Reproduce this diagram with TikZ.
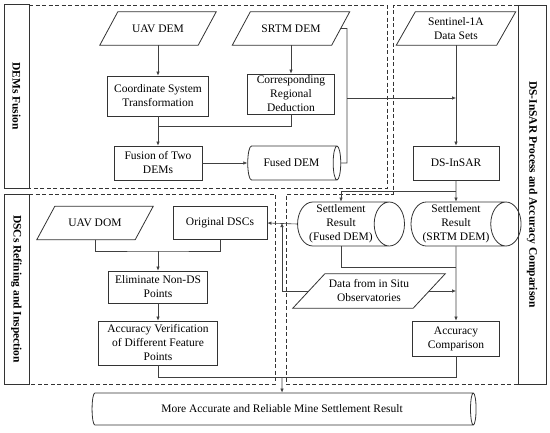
\documentclass[tikz,border=0pt]{standalone}
\usepackage{fontspec}
\setmainfont{Liberation Serif}
\usetikzlibrary{shapes.geometric,arrows.meta,calc}
\begin{document}
\begin{tikzpicture}[x=1pt,y=-1pt,
  font=\fontsize{11.5}{14}\selectfont,
  box/.style={draw=black!80, line width=0.8pt, align=center, inner sep=1pt},
  para/.style={align=center, inner sep=1pt},
  pline/.style={draw=black!80, line width=0.8pt},
  cyl/.style={cylinder, draw=black!80, line width=0.8pt, align=center, aspect=0.75, inner sep=1pt},
  strip/.style={draw=black!80, line width=0.8pt, rotate=-90, inner sep=0pt,
    font=\fontsize{11.5}{14}\selectfont\bfseries},
  region/.style={draw=black!80, line width=0.8pt, dash pattern=on 4pt off 2.5pt},
  conn/.style={draw=black!75, line width=0.6pt},
  arr/.style={conn, -{Latex[length=4pt,width=3.5pt]}}
]
\useasboundingbox (0,0) rectangle (550,432);

% side strips
\node[strip, minimum width=184pt, minimum height=25pt] (s1) at (16.5,96) {DEMs Fusion};
\node[strip, minimum width=190pt, minimum height=25pt] (s2) at (16.5,289) {DSCs Refining and Inspection};
\node[strip, minimum width=379pt, minimum height=28pt] (s3) at (532,194.5) {DS-InSAR Process and Accuracy Comparison};

% dashed regions
\draw[region] (29,5) -- (387,5) -- (387,188) -- (29,188);
\draw[region] (29,194) -- (275,194) -- (275,384) -- (29,384);
\draw[region] (518,5) -- (393,5) -- (393,194) -- (286,194) -- (286,384) -- (518,384);

% DEMs fusion
\node[para, minimum width=98pt, minimum height=33pt] (uavdem) at (158,28.5) {UAV DEM};
\node[para, minimum width=99pt, minimum height=33pt] (srtm) at (291,28.5) {SRTM DEM};
\node[box, minimum width=101pt, minimum height=40pt] (cst) at (158,96) {Coordinate System\\Transformation};
\node[box, minimum width=87pt, minimum height=40pt] (crd) at (291,94) {Corresponding\\Regional\\Deduction};
\node[box, minimum width=88pt, minimum height=34pt] (fusion) at (158,163) {Fusion of Two\\DEMs};
\node[cyl, minimum height=93pt, minimum width=34pt] (fuseddem) at (291.5,163) {Fused DEM};

% DS-InSAR
\node[para, minimum width=100pt, minimum height=33pt] (sentinel) at (456,28.5) {Sentinel-1A\\Data Sets};
\node[box, minimum width=86pt, minimum height=34pt] (dsinsar) at (456,163) {DS-InSAR};
\node[cyl, minimum height=90pt, minimum width=44pt] (srfused) at (341,224) {Settlement\\Result\\(Fused DEM)};
\node[cyl, minimum height=92pt, minimum width=44pt] (srsrtm) at (456,224) {Settlement\\Result\\(SRTM DEM)};
\node[para, minimum width=120pt, minimum height=34pt] (data) at (369,291) {Data from in Situ\\Observatories};
\node[box, minimum width=87pt, minimum height=35pt] (acccmp) at (456,338.5) {Accuracy\\Comparison};

% DSCs
\node[para, minimum width=98pt, minimum height=33pt] (uavdom) at (95,223) {UAV DOM};
\node[box, minimum width=94pt, minimum height=33pt] (orig) at (220,223) {Original DSCs};
\node[box, minimum width=99pt, minimum height=32pt] (elim) at (158,287) {Eliminate Non-DS\\Points};
\node[box, minimum width=119pt, minimum height=44pt] (accver) at (158,343) {Accuracy Verification\\of Different Feature\\Points};

% final
\node[cyl, aspect=0.55, minimum height=384pt, minimum width=32pt] (final) at (282,409) {More Accurate and Reliable Mine Settlement Result};

% parallelogram outlines
\foreach \n/\s in {uavdem/9,srtm/9,sentinel/9.5,uavdom/9,data/16}
  \draw[pline] ([xshift=\s pt]\n.north west) -- ([xshift=\s pt]\n.north east)
    -- ([xshift=-\s pt]\n.south east) -- ([xshift=-\s pt]\n.south west) -- cycle;

% connectors
\coordinate (j1) at (158,126);
\coordinate (k1) at (347,28.5);
\coordinate (k2) at (347,98);
\coordinate (k3) at (347,163);
\coordinate (m1) at (456,191);
\coordinate (jx) at (282,223);
\coordinate (m3) at (456,267);
\coordinate (b1) at (282,377);
\coordinate (u1) at (158,251);

\draw[arr] (uavdem.south) -- (cst.north);
\draw[arr] (srtm.south) -- (crd.north);
\draw[arr] (cst.south) -- (fusion.north);
\draw[conn] (crd.south) |- (j1);
\draw[arr] (fusion.east) -- (fuseddem.west);
\draw[conn] (srtm.east) -- (k1) -- (k3) -- (fuseddem.east);
\draw[arr] (k2) -- (k2 -| dsinsar.north);
\draw[arr] (sentinel.south) -- (dsinsar.north);
\draw[arr] (dsinsar.south) -- (srsrtm.north);
\draw[arr] (m1) -| (srfused.north);
\draw[arr] (srfused.west) -- (orig.east);
\draw[arr] (data.west) -| (jx);
\draw[conn] (srfused.south) |- (m3);
\draw[arr] (srsrtm.south) -- (acccmp.north);
\draw[arr] (data.east) -- (data.east -| acccmp.north);
\draw[conn] (accver.south) |- (b1);
\draw[conn] (acccmp.south) |- (b1);
\draw[arr] (b1) -- (final.north);
\draw[conn] (uavdom.south) |- (u1) -| (orig.south);
\draw[arr] (u1) -- (elim.north);
\draw[arr] (elim.south) -- (accver.north);
\end{tikzpicture}
\end{document}
